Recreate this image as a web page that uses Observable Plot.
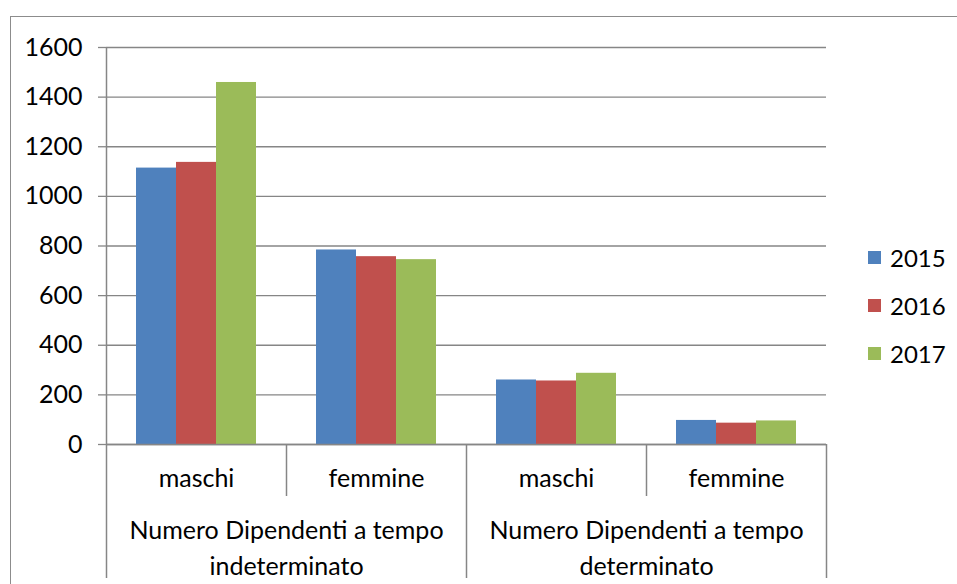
<!DOCTYPE html>
<html>
<head>
<meta charset="utf-8">
<script src="https://cdn.jsdelivr.net/npm/d3@7"></script>
<script src="https://cdn.jsdelivr.net/npm/@observablehq/plot@0.6"></script>
<style>
  html, body { margin: 0; padding: 0; background: #ffffff; }
  #wrap { position: relative; width: 957px; height: 584px; overflow: hidden; font-family: Lato, sans-serif; }
  #border { position: absolute; left: 10px; top: 16px; width: 2000px; height: 2000px;
            border-left: 1.5px solid #8c8c8c; border-top: 1.5px solid #8c8c8c; pointer-events: none; }
  #chart { position: absolute; left: 0; top: 0; }
  #legend { position: absolute; left: 868px; top: 233px; }
  .item { display: flex; align-items: center; height: 48px; font-size: 24px; color: #000; }
  .sw { width: 13px; height: 13px; margin-right: 9px; }
</style>
</head>
<body>
<div id="wrap">
  <div id="chart"></div>
  <div id="border"></div>
  <div id="legend"></div>
</div>
<script>
// ---- data ----
const groups = ["Numero Dipendenti a tempo\nindeterminato", "Numero Dipendenti a tempo\ndeterminato"];
const subLabels = ["maschi", "femmine"];
const years = ["2015", "2016", "2017"];
// values in order: indeterminato-maschi, indeterminato-femmine, determinato-maschi, determinato-femmine
const v2015 = [1114, 784, 260, 97];
const v2016 = [1137, 757, 256, 86];
const v2017 = [1459, 745, 287, 95];
const yTicks = [0, 200, 400, 600, 800, 1000, 1200, 1400, 1600];
const colors = ["#4F81BD", "#C0504D", "#9BBB59"];

// ---- build tables ----
const series = [v2015, v2016, v2017];
const cats = [];
groups.forEach((g, gi) => subLabels.forEach((s, si) => cats.push({key: gi + "|" + si, group: g, sub: s, gi, si})));
const keys = cats.map(d => d.key);
const rows = [];
years.forEach((yr, yi) => cats.forEach((c, ci) => rows.push({key: c.key, year: yr, yi, value: series[yi][ci]})));

// ---- layout ----
const W = 957, H = 584;
const mL = 106, mR = 131, mT = 47, mB = 140;
const frameH = H - mT - mB;
const bw = (W - mL - mR) / keys.length;   // band width
const outer = bw / 6;                     // gap each side of a bar group
const barW = (bw - 2 * outer) / years.length;
const lineColor = "#868686";
const font = "Lato, sans-serif";
const fs = 25;

const barMarks = years.map((yr, yi) =>
  Plot.barY(rows.filter(r => r.yi === yi), {
    x: "key", y: "value", fill: colors[yi],
    insetLeft: outer + yi * barW,
    insetRight: outer + (years.length - 1 - yi) * barW
  })
);

const firstOfGroup = cats.filter(c => c.si === 0).map(c => c.key);
const secondOfGroup = cats.filter(c => c.si === 1).map(c => c.key);
const groupLabels = groups.map((g, gi) => ({key: firstOfGroup[gi], label: g}));

const chart = Plot.plot({
  width: W, height: H,
  marginLeft: mL, marginRight: mR, marginTop: mT, marginBottom: mB,
  style: {fontFamily: font, background: "transparent", color: "#000"},
  x: {domain: keys, padding: 0, axis: null},
  y: {domain: [0, 1600], axis: null},
  marks: [
    Plot.gridY(yTicks, {stroke: lineColor, strokeOpacity: 1, strokeWidth: 1.3}),
    Plot.axisY(yTicks, {tickSize: 8, tickPadding: 16, fontSize: fs, stroke: lineColor, strokeWidth: 1.3, fill: "#000", label: null, tickFormat: d => String(d)}),
    ...barMarks,
    // y axis line continuing down as the left divider
    Plot.ruleX([keys[0]], {x: d => d, dx: -bw / 2, insetBottom: -134, stroke: lineColor, strokeWidth: 1.5}),
    // long dividers (group boundaries)
    Plot.ruleX(firstOfGroup.slice(1), {x: d => d, dx: -bw / 2, insetTop: frameH, insetBottom: -134, stroke: lineColor, strokeWidth: 1.5}),
    Plot.ruleX([keys[keys.length - 1]], {x: d => d, dx: bw / 2, insetTop: frameH, insetBottom: -134, stroke: lineColor, strokeWidth: 1.5}),
    // short dividers between maschi / femmine
    Plot.ruleX(secondOfGroup, {x: d => d, dx: -bw / 2, insetTop: frameH, insetBottom: -52, stroke: lineColor, strokeWidth: 1.5}),
    // baseline
    Plot.ruleY([0], {stroke: lineColor, strokeWidth: 1.5}),
    // category labels
    Plot.text(cats, {x: "key", text: "sub", frameAnchor: "bottom", dy: 34, lineAnchor: "middle", fontSize: fs, fill: "#000"}),
    Plot.text(groupLabels, {x: "key", text: "label", dx: bw / 2, frameAnchor: "bottom", dy: 101, lineAnchor: "middle", lineHeight: 1.45, fontSize: fs, fill: "#000"})
  ]
});
document.getElementById("chart").appendChild(chart);

// legend
const legend = document.getElementById("legend");
years.forEach((yr, yi) => {
  const item = document.createElement("div");
  item.className = "item";
  const sw = document.createElement("div");
  sw.className = "sw";
  sw.style.background = colors[yi];
  const t = document.createElement("span");
  t.textContent = yr;
  item.appendChild(sw);
  item.appendChild(t);
  legend.appendChild(item);
});
</script>
</body>
</html>
